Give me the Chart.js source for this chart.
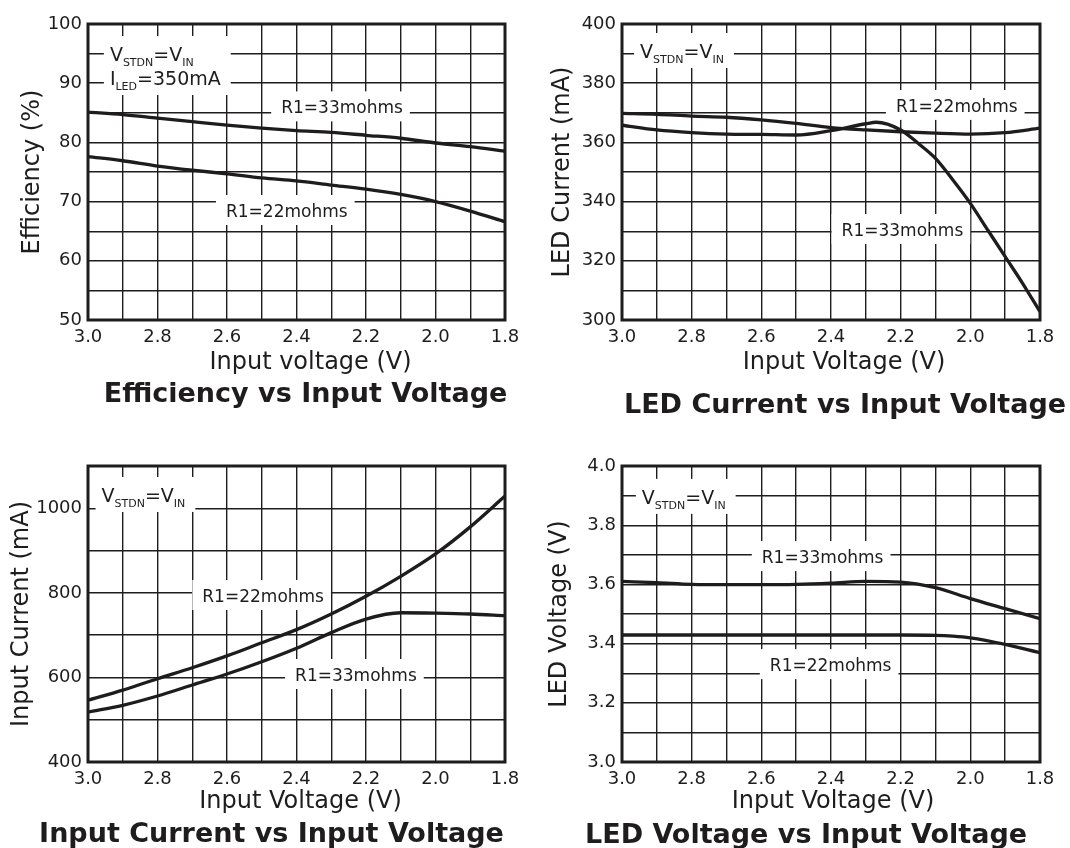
<!DOCTYPE html>
<html>
<head>
<meta charset="utf-8">
<title>Input voltage characteristics</title>
<script src="https://cdn.jsdelivr.net/npm/chart.js@4.4.1/dist/chart.umd.min.js"></script>
<style>
    body { margin: 0; background: #fff; }
    .cell { position: absolute; width: 535px; height: 424px; }
</style>
</head>
<body>
<div class="cell" style="left:0;top:0"><canvas id="eff-chart"></canvas></div>
<div class="cell" style="left:535px;top:0"><canvas id="led-current-chart"></canvas></div>
<div class="cell" style="left:0;top:424px"><canvas id="input-current-chart"></canvas></div>
<div class="cell" style="left:535px;top:424px"><canvas id="led-voltage-chart"></canvas></div>
<script>
// input voltage points (V), read every 0.1 V
var volts = [3.0, 2.9, 2.8, 2.7, 2.6, 2.5, 2.4, 2.3, 2.2, 2.1, 2.0, 1.9, 1.8];

// Efficiency (%)
var eff33 = [85.1, 84.7, 84.1, 83.5, 82.9, 82.4, 82.0, 81.7, 81.2, 80.7, 79.9, 79.3, 78.5];
var eff22 = [77.6, 76.9, 76.0, 75.3, 74.7, 74.0, 73.5, 72.8, 72.1, 71.2, 70.0, 68.4, 66.6];

// LED current (mA)
var led22 = [369.8, 369.5, 368.9, 368.5, 367.6, 366.4, 365.0, 364.2, 363.6, 363.1, 362.8, 363.3, 364.8];
var led33Volts = [3.0, 2.9, 2.8, 2.7, 2.6, 2.5, 2.4, 2.3, 2.27, 2.2, 2.15, 2.1, 2.05, 2.0, 1.95, 1.9, 1.85, 1.8];
var led33 = [365.8, 364.2, 363.3, 362.8, 362.7, 362.5, 364.0, 366.3, 366.8, 364.2, 359.7, 354.6, 347.3, 339.4, 330.4, 321.4, 312.4, 302.8];

// Input current (mA)
var in22 = [546, 570, 597, 623, 651, 682, 713, 750, 792, 839, 892, 956, 1029];
var in33 = [518, 534, 556, 582, 608, 637, 669, 706, 738, 753, 752, 750, 746];

// LED voltage (V)
var vled33 = [3.610, 3.606, 3.600, 3.599, 3.599, 3.600, 3.604, 3.610, 3.608, 3.589, 3.552, 3.518, 3.484];
var vled22Volts = [3.0, 2.8, 2.6, 2.4, 2.2, 2.1, 2.05, 2.0, 1.9, 1.8];
var vled22 = [3.429, 3.429, 3.429, 3.429, 3.429, 3.428, 3.425, 3.419, 3.397, 3.369];

var INK = '#1e1c1d';
var TEXT_FONT = "'DejaVu Sans', sans-serif";

Chart.defaults.font.family = TEXT_FONT;
Chart.defaults.color = INK;

// V_STDN = V_IN style note parts: [text, subscript?]
var stdnLine = [['V', false], ['STDN', true], ['=V', false], ['IN', true]];
var iledLine = [['I', false], ['LED', true], ['=350mA', false]];

function drawParts(ctx, parts, x, y, measureOnly) {
    var w = 0;
    parts.forEach(function (p) {
        ctx.font = p[1] ? '11px ' + TEXT_FONT : '19px ' + TEXT_FONT;
        if (!measureOnly) ctx.fillText(p[0], x + w, p[1] ? y + 5 : y);
        w += ctx.measureText(p[0]).width;
    });
    return w;
}

// white label boxes on the grid, frame, x caption and chart title
function notesPlugin(cfg) {
    return {
        id: 'notes',
        beforeDatasetsDraw: function (chart) {
            var ctx = chart.ctx;
            var sx = chart.scales.x, sy = chart.scales.y;
            ctx.save();
            ctx.textBaseline = 'alphabetic';
            cfg.notes.forEach(function (n) {
                var px = sx.getPixelForValue(n.x);
                var py = sy.getPixelForValue(n.y);
                if (n.lines) {
                    var maxW = 0;
                    n.lines.forEach(function (l) {
                        maxW = Math.max(maxW, drawParts(ctx, l, 0, 0, true));
                    });
                    var lastY = py + (n.lines.length - 1) * 24;
                    ctx.fillStyle = '#fff';
                    ctx.fillRect(px - 6, py - 25, maxW + 16, lastY - py + 35);
                    ctx.fillStyle = INK;
                    n.lines.forEach(function (l, i) {
                        drawParts(ctx, l, px, py + i * 24, false);
                    });
                } else {
                    ctx.font = '17px ' + TEXT_FONT;
                    var w = ctx.measureText(n.text).width;
                    var left = px - w / 2;
                    ctx.fillStyle = '#fff';
                    ctx.fillRect(left - 10, py - 22, w + 17, 30);
                    ctx.fillStyle = INK;
                    ctx.fillText(n.text, left, py);
                }
            });
            ctx.restore();
        },
        afterDraw: function (chart) {
            var a = chart.chartArea;
            var ctx = chart.ctx;
            var mid = (a.left + a.right) / 2;
            ctx.save();
            ctx.strokeStyle = INK;
            ctx.lineWidth = 3;
            ctx.strokeRect(a.left, a.top, a.right - a.left, a.bottom - a.top);

            ctx.fillStyle = INK;
            ctx.textAlign = 'center';
            ctx.textBaseline = 'alphabetic';
            ctx.font = '24px ' + TEXT_FONT;
            ctx.fillText(cfg.xTitle, mid + cfg.xTitleShift[0], a.bottom + cfg.xTitleShift[1]);
            ctx.font = 'bold 27px ' + TEXT_FONT;
            ctx.fillText(cfg.title, mid + cfg.titleShift[0], a.bottom + cfg.titleShift[1]);
            ctx.restore();
        }
    };
}

function lineSet(xs, ys) {
    return {
        data: xs.map(function (v, i) { return { x: v, y: ys[i] }; }),
        borderColor: INK,
        borderWidth: 3.3,
        pointRadius: 0,
        fill: false,
        cubicInterpolationMode: 'monotone'
    };
}

function createChart(id, cfg) {
    var ctx = document.getElementById(id).getContext('2d');
    return new Chart(ctx, {
        type: 'line',
        data: { datasets: cfg.sets },
        options: {
            responsive: true,
            maintainAspectRatio: false,
            animation: false,
            layout: { padding: { left: 0, right: 30, top: cfg.top, bottom: cfg.bottom } },
            plugins: {
                legend: { display: false },
                tooltip: { enabled: false }
            },
            scales: {
                x: {
                    type: 'linear',
                    reverse: true,
                    min: 1.8,
                    max: 3.0,
                    afterFit: function (s) { s.height = 58; },
                    border: { display: false },
                    grid: { color: INK, lineWidth: 1.4, drawTicks: false },
                    ticks: {
                        stepSize: 0.1,
                        autoSkip: false,
                        maxRotation: 0,
                        padding: 7,
                        font: { size: 18 },
                        callback: function (v) {
                            return Math.round(v * 10) % 2 === 0 ? v.toFixed(1) : '';
                        }
                    }
                },
                y: {
                    min: cfg.yMin,
                    max: cfg.yMax,
                    afterFit: function (s) { s.width = cfg.axisWidth; },
                    border: { display: false },
                    grid: { color: INK, lineWidth: 1.4, drawTicks: false },
                    ticks: {
                        stepSize: cfg.yStep,
                        padding: 6,
                        font: { size: 18 },
                        callback: function (v) {
                            var k = Math.round(v / cfg.yStep);
                            return k % cfg.labelEvery === 0 ? v.toFixed(cfg.digits) : '';
                        }
                    },
                    title: {
                        display: true,
                        text: cfg.yTitle,
                        font: { size: 24 },
                        padding: { top: cfg.yTitlePad, bottom: 0 }
                    }
                }
            }
        },
        plugins: [notesPlugin(cfg)]
    });
}

createChart('eff-chart', {
    sets: [lineSet(volts, eff33), lineSet(volts, eff22)],
    title: 'Efficiency vs Input Voltage',
    xTitle: 'Input voltage (V)',
    yTitle: 'Efficiency (%)',
    yMin: 50, yMax: 100, yStep: 5, labelEvery: 2, digits: 0,
    axisWidth: 88, yTitlePad: 18.6, top: 24, bottom: 46,
    xTitleShift: [14, 49], titleShift: [9, 82],
    notes: [
        { lines: [stdnLine, iledLine], x: 2.937, y: 93.75 },
        { text: 'R1=33mohms', x: 2.269, y: 84.9 },
        { text: 'R1=22mohms', x: 2.428, y: 67.4 }
    ]
});

createChart('led-current-chart', {
    sets: [lineSet(volts, led22), lineSet(led33Volts, led33)],
    title: 'LED Current vs Input Voltage',
    xTitle: 'Input Voltage (V)',
    yTitle: 'LED Current (mA)',
    yMin: 300, yMax: 400, yStep: 10, labelEvery: 2, digits: 0,
    axisWidth: 87, yTitlePad: 13.7, top: 24, bottom: 46,
    xTitleShift: [13, 48.5], titleShift: [14, 93],
    notes: [
        { lines: [stdnLine], x: 2.948, y: 388.5 },
        { text: 'R1=22mohms', x: 2.039, y: 370.3 },
        { text: 'R1=33mohms', x: 2.195, y: 328.4 }
    ]
});

createChart('input-current-chart', {
    sets: [lineSet(volts, in22), lineSet(volts, in33)],
    title: 'Input Current vs Input Voltage',
    xTitle: 'Input Voltage (V)',
    yTitle: 'Input Current (mA)',
    yMin: 400, yMax: 1100, yStep: 100, labelEvery: 2, digits: 0,
    axisWidth: 88, yTitlePad: 7.1, top: 42, bottom: 28,
    xTitleShift: [4, 46], titleShift: [-25, 80],
    notes: [
        { lines: [stdnLine], x: 2.961, y: 1014.9 },
        { text: 'R1=22mohms', x: 2.496, y: 778.4 },
        { text: 'R1=33mohms', x: 2.229, y: 591.6 }
    ]
});

createChart('led-voltage-chart', {
    sets: [lineSet(volts, vled33), lineSet(vled22Volts, vled22)],
    title: 'LED Voltage vs Input Voltage',
    xTitle: 'Input Voltage (V)',
    yTitle: 'LED Voltage (V)',
    yMin: 3.0, yMax: 4.0, yStep: 0.1, labelEvery: 2, digits: 1,
    axisWidth: 87, yTitlePad: 10.4, top: 42, bottom: 28,
    xTitleShift: [2, 46], titleShift: [-25, 81],
    notes: [
        { lines: [stdnLine], x: 2.943, y: 3.872 },
        { text: 'R1=33mohms', x: 2.424, y: 3.672 },
        { text: 'R1=22mohms', x: 2.401, y: 3.307 }
    ]
});
</script>
</body>
</html>
